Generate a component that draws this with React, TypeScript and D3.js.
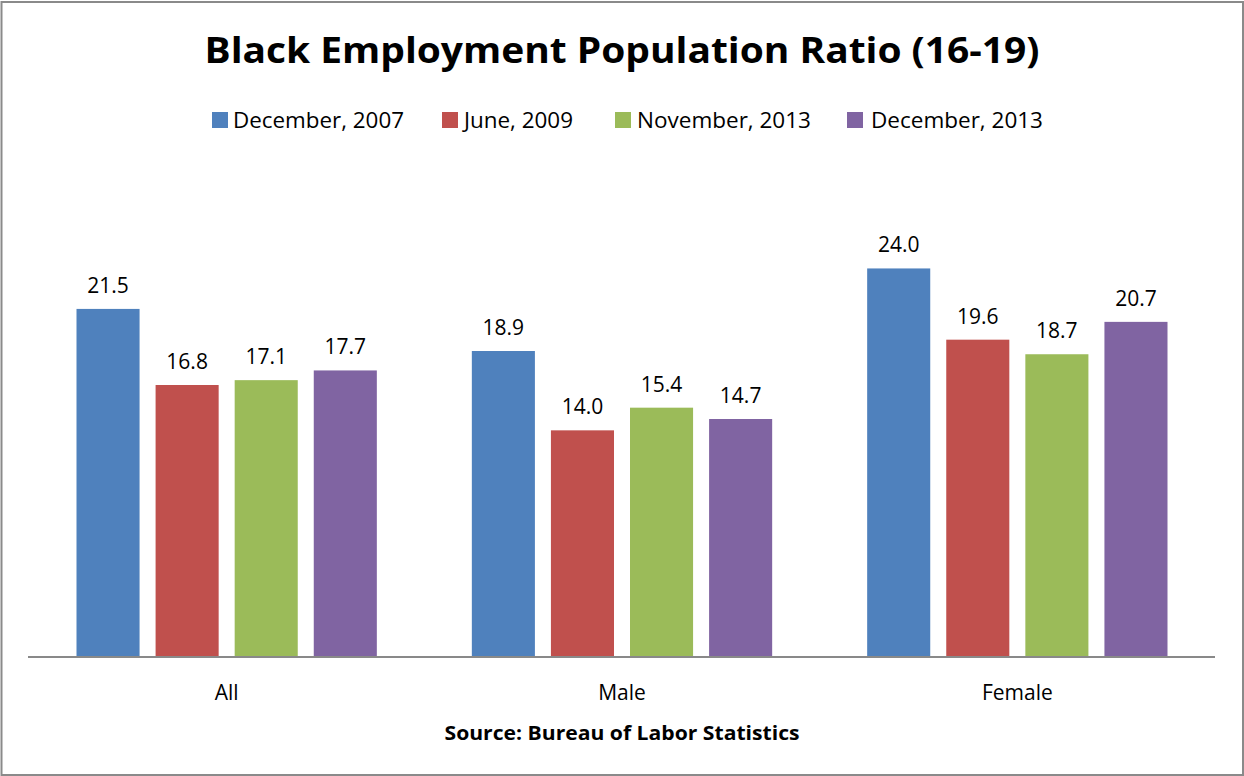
import React from "react";
import * as d3 from "d3";

const categories = ["All", "Male", "Female"];
const seriesNames = ["December, 2007", "June, 2009", "November, 2013", "December, 2013"];
const dec2007 = [21.5, 18.9, 24.0];
const jun2009 = [16.8, 14.0, 19.6];
const nov2013 = [17.1, 15.4, 18.7];
const dec2013 = [17.7, 14.7, 20.7];
const seriesColors = ["#4F81BD", "#C0504D", "#9BBB59", "#8064A2"];
const titleText = "Black Employment Population Ratio (16-19)";
const sourceText = "Source: Bureau of Labor Statistics";

const W = 1244;
const H = 776;
const FONT = "'Open Sans', 'Noto Sans', sans-serif";

export default function App() {
  const seriesValues = [dec2007, jun2009, nov2013, dec2013];
  const plotLeft = 29;
  const plotRight = 1215;
  const baseY = 657;
  const x0 = d3.scaleBand<string>().domain(categories).range([plotLeft, plotRight]);
  const outer = 47.5;
  const x1 = d3
    .scaleBand<string>()
    .domain(seriesNames)
    .range([outer, x0.bandwidth() - outer])
    .paddingInner(16 / 79);
  const y = d3.scaleLinear().domain([0, 30]).range([baseY, baseY - 485.7]);

  const legendItems = [
    { sx: 212, tx: 233, tw: 171 },
    { sx: 442, tx: 464, tw: 109 },
    { sx: 615, tx: 637, tw: 174 },
    { sx: 847, tx: 871, tw: 172 },
  ];

  return (
    <svg
      width={W}
      height={H}
      style={{ position: "absolute", left: 0, top: 0, background: "#fff" }}
      fontFamily={FONT}
    >
      <rect x={0} y={0} width={W} height={H} fill="#fff" />
      <rect x={1.5} y={2} width={W - 2.5} height={H - 3} fill="none" stroke="#8a8a8a" strokeWidth={2} />
      <text
        x={622}
        y={63}
        textAnchor="middle"
        fontSize={35}
        fontWeight="bold"
        textLength={835}
        lengthAdjust="spacingAndGlyphs"
        fill="#000"
      >
        {titleText}
      </text>
      {seriesNames.map((s, i) => (
        <g key={s}>
          <rect x={legendItems[i].sx} y={112} width={16} height={16} fill={seriesColors[i]} />
          <text
            x={legendItems[i].tx}
            y={128}
            fontSize={21.5}
            textLength={legendItems[i].tw}
            lengthAdjust="spacingAndGlyphs"
            fill="#000"
          >
            {s}
          </text>
        </g>
      ))}
      {categories.map((c, ci) => (
        <g key={c} transform={`translate(${x0(c)},0)`}>
          {seriesNames.map((s, si) => {
            const v = seriesValues[si][ci];
            const bx = x1(s)!;
            return (
              <g key={s}>
                <rect
                  x={bx}
                  y={y(v)}
                  width={x1.bandwidth()}
                  height={baseY - y(v)}
                  fill={seriesColors[si]}
                />
                <text
                  x={bx + x1.bandwidth() / 2}
                  y={y(v) - 16}
                  textAnchor="middle"
                  fontSize={21}
                  fill="#000"
                >
                  {v.toFixed(1)}
                </text>
              </g>
            );
          })}
          <text x={x0.bandwidth() / 2} y={700} textAnchor="middle" fontSize={21} fill="#000">
            {c}
          </text>
        </g>
      ))}
      <line x1={plotLeft - 1} x2={plotRight} y1={baseY} y2={baseY} stroke="#898989" strokeWidth={2} />
      <text
        x={622}
        y={740}
        textAnchor="middle"
        fontSize={20}
        fontWeight="bold"
        textLength={355}
        lengthAdjust="spacingAndGlyphs"
        fill="#000"
      >
        {sourceText}
      </text>
    </svg>
  );
}
